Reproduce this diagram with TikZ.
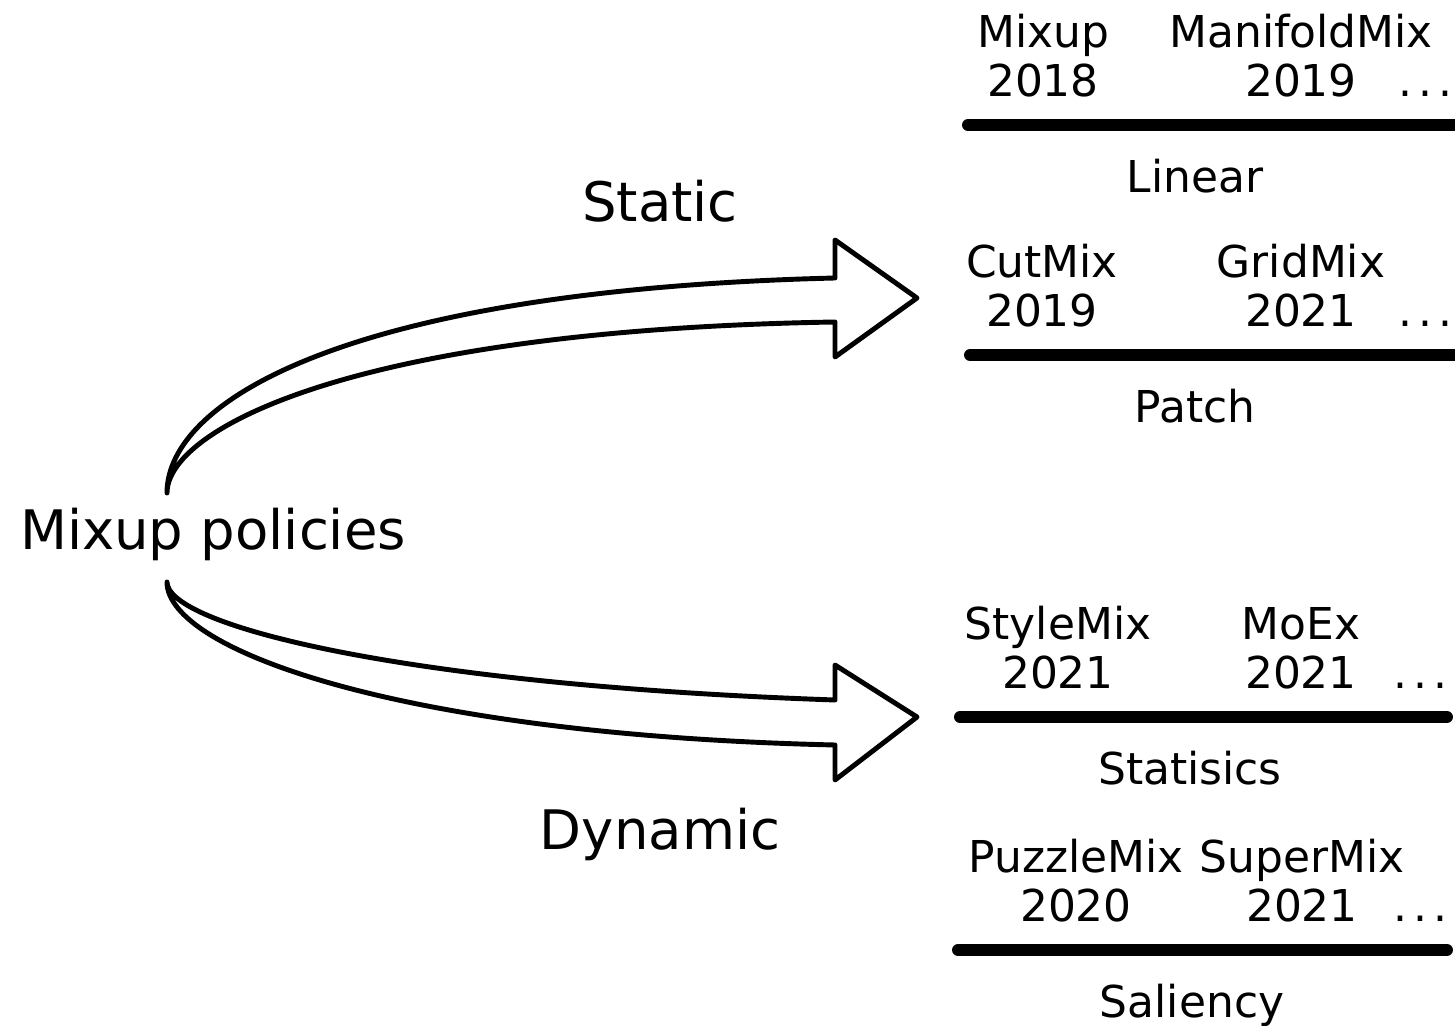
\documentclass[tikz,border=0pt]{standalone}
\usepackage{fontspec}
\setmainfont{DejaVu Sans}
\usepackage{tikz}
\usetikzlibrary{positioning, calc}

\tikzset{
    big/.style={font=\fontsize{31}{37}\selectfont, anchor=base},
    meth/.style={font=\fontsize{25}{30}\selectfont, anchor=base},
    dots/.style={meth, anchor=base west, inner sep=0pt},
    bar/.style={line width=6.8pt, line cap=round},
    fat/.style={line width=2.8pt, line join=round, line cap=round}
}
\newcommand{\more}{.\hspace{3.5pt}.\hspace{3.5pt}.}

\begin{document}
\begin{tikzpicture}[x=0.02cm, y=-0.02cm]
    \useasboundingbox (0,0) rectangle (1455,1026);

    \node[big] (pol) at (213,550) {Mixup policies};
    \node[big] (sta) at (660,222) {Static};
    \node[big] (dyn) at (660,850) {Dynamic};

    \coordinate (s1) at (167,493);
    \coordinate (s2) at (167,582);

    % 上方箭头
    \draw[fat] (s1) .. controls (167,400) and (350,290) .. (835,278) -- (835,240)
        -- (917,298) -- (835,357) -- (835,322) .. controls (350,330) and (167,430) .. (s1);
    % 下方箭头
    \draw[fat] (s2) .. controls (167,650) and (400,735) .. (835,745) -- (835,780)
        -- (917,717) -- (835,665) -- (835,700) .. controls (400,685) and (167,625) .. (s2);

    % Linear
    \node[meth] (mixup) at (1043,48) {Mixup};
    \node[meth] (y2018) at (1043,97) {2018};
    \node[meth] (manifold) at (1301,48) {ManifoldMix};
    \node[meth] (y2019a) at (1301,97) {2019};
    \node[dots] (d1) at (1398,97) {\more};
    \draw[bar] (968,125) -- (1470,125);
    \node[meth] (linear) at (1195,193) {Linear};

    % Patch
    \node[meth] (cutmix) at (1042,278) {CutMix};
    \node[meth] (y2019b) at (1042,327) {2019};
    \node[meth] (gridmix) at (1301,278) {GridMix};
    \node[meth] (y2021a) at (1301,327) {2021};
    \node[dots] (d2) at (1398,327) {\more};
    \draw[bar] (970,355) -- (1470,355);
    \node[meth] (patch) at (1195,423) {Patch};

    % Statisics
    \node[meth] (stylemix) at (1058,640) {StyleMix};
    \node[meth] (y2021b) at (1058,689) {2021};
    \node[meth] (moex) at (1301,640) {MoEx};
    \node[meth] (y2021c) at (1301,689) {2021};
    \node[dots] (d3) at (1393,689) {\more};
    \draw[bar] (960,717) -- (1447,717);
    \node[meth] (stat) at (1190,785) {Statisics};

    % Saliency
    \node[meth] (puzzle) at (1076,873) {PuzzleMix};
    \node[meth] (y2020) at (1076,922) {2020};
    \node[meth] (supermix) at (1302,873) {SuperMix};
    \node[meth] (y2021d) at (1302,922) {2021};
    \node[dots] (d4) at (1393,922) {\more};
    \draw[bar] (958,950) -- (1447,950);
    \node[meth] (sal) at (1192,1018) {Saliency};
\end{tikzpicture}
\end{document}
